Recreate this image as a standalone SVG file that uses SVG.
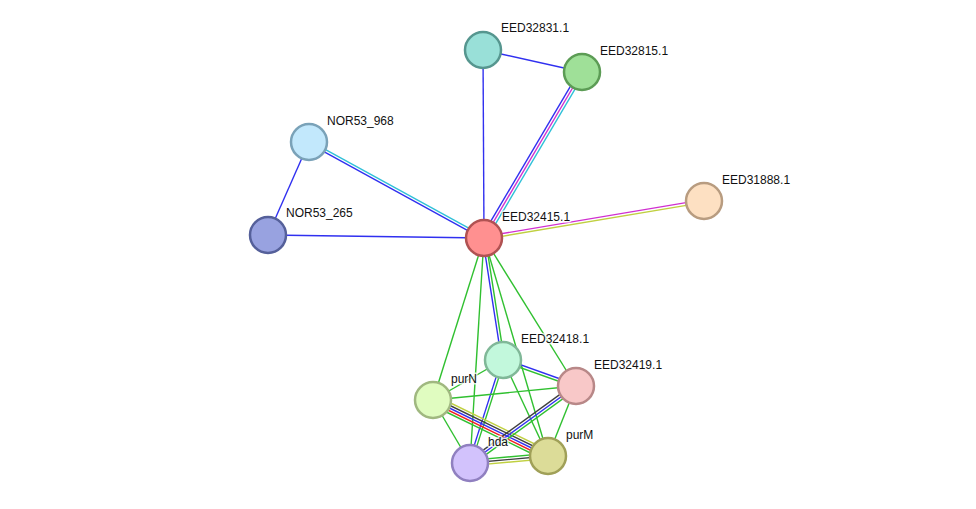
<svg xmlns="http://www.w3.org/2000/svg" width="976" height="509" viewBox="0 0 976 509">
<style>
.e{fill:none;stroke-width:1.4}
.bl{stroke:#3030f0}.cy{stroke:#30c0d8}.mg{stroke:#d030d0}.gr{stroke:#30c030}.yg{stroke:#c0d040}.dk{stroke:#404040}.rd{stroke:#f02020}
.n{stroke-width:2.5}
.t{font-family:"Liberation Sans",Arial,sans-serif;font-size:12px;fill:#111;stroke:#fff;stroke-width:3;stroke-opacity:0.8;paint-order:stroke;stroke-linejoin:round}
</style>
<rect width="976" height="509" fill="#fff"/>
<g id="edges">
<line class="e bl" x1="483" y1="50" x2="582" y2="72"/>
<line class="e bl" x1="483" y1="50" x2="484" y2="238"/>
<line class="e bl" x1="579.68" y1="70.63" x2="481.68" y2="236.63"/>
<line class="e mg" x1="582" y1="72" x2="484" y2="238"/>
<line class="e cy" x1="584.32" y1="73.37" x2="486.32" y2="239.37"/>
<line class="e bl" x1="309" y1="142" x2="268" y2="235"/>
<line class="e bl" x1="308.35" y1="143.18" x2="483.35" y2="239.18"/>
<line class="e cy" x1="309.65" y1="140.82" x2="484.65" y2="236.82"/>
<line class="e bl" x1="268" y1="235" x2="484" y2="238"/>
<line class="e mg" x1="483.78" y1="236.67" x2="703.78" y2="199.67"/>
<line class="e yg" x1="484.22" y1="239.33" x2="704.22" y2="202.33"/>
<line class="e gr" x1="484" y1="238" x2="433" y2="400"/>
<line class="e gr" x1="484" y1="238" x2="470" y2="463"/>
<line class="e gr" x1="484" y1="238" x2="548" y2="456"/>
<line class="e gr" x1="484" y1="238" x2="576" y2="386"/>
<line class="e bl" x1="482.67" y1="238.21" x2="501.67" y2="360.21"/>
<line class="e gr" x1="485.33" y1="237.79" x2="504.33" y2="359.79"/>
<line class="e bl" x1="503.45" y1="358.73" x2="576.45" y2="384.73"/>
<line class="e gr" x1="502.55" y1="361.27" x2="575.55" y2="387.27"/>
<line class="e bl" x1="501.71" y1="359.59" x2="468.71" y2="462.59"/>
<line class="e gr" x1="504.29" y1="360.41" x2="471.29" y2="463.41"/>
<line class="e gr" x1="503" y1="360" x2="433" y2="400"/>
<line class="e gr" x1="503" y1="360" x2="548" y2="456"/>
<line class="e gr" x1="433" y1="400" x2="576" y2="386"/>
<line class="e gr" x1="433" y1="400" x2="470" y2="463"/>
<line class="e gr" x1="576" y1="386" x2="548" y2="456"/>
<line class="e yg" x1="435.19" y1="395.50" x2="550.19" y2="451.50"/>
<line class="e dk" x1="434.10" y1="397.75" x2="549.10" y2="453.75"/>
<line class="e bl" x1="433" y1="400" x2="548" y2="456"/>
<line class="e rd" x1="431.90" y1="402.25" x2="546.90" y2="458.25"/>
<line class="e gr" x1="430.81" y1="404.50" x2="545.81" y2="460.50"/>
<line class="e dk" x1="468.47" y1="460.90" x2="574.47" y2="383.90"/>
<line class="e bl" x1="470" y1="463" x2="576" y2="386"/>
<line class="e gr" x1="471.53" y1="465.10" x2="577.53" y2="388.10"/>
<line class="e gr" x1="469.77" y1="460.41" x2="547.77" y2="453.41"/>
<line class="e dk" x1="470" y1="463" x2="548" y2="456"/>
<line class="e yg" x1="470.23" y1="465.59" x2="548.23" y2="458.59"/>
</g>
<g id="EED32831.1"><circle class="n" cx="483" cy="50" r="18" fill="#99e0d8" stroke="#56968f"/><text class="t" x="501" y="32">EED32831.1</text></g>
<g id="EED32815.1"><circle class="n" cx="582" cy="72" r="18" fill="#9fe098" stroke="#5c9c55"/><text class="t" x="600" y="55">EED32815.1</text></g>
<g id="NOR53_968"><circle class="n" cx="309" cy="142" r="18" fill="#c2e8fc" stroke="#7aa2b8"/><text class="t" x="327" y="125">NOR53_968</text></g>
<g id="NOR53_265"><circle class="n" cx="268" cy="235" r="18" fill="#98a2e0" stroke="#55609a"/><text class="t" x="286" y="217">NOR53_265</text></g>
<g id="EED32415.1"><circle class="n" cx="484" cy="238" r="18" fill="#ff9090" stroke="#b05252"/><text class="t" x="502" y="221">EED32415.1</text></g>
<g id="EED31888.1"><circle class="n" cx="704" cy="201" r="18" fill="#fde0c2" stroke="#b89c80"/><text class="t" x="722" y="184">EED31888.1</text></g>
<g id="EED32418.1"><circle class="n" cx="503" cy="360" r="18" fill="#c2f8dc" stroke="#80b898"/><text class="t" x="521" y="343">EED32418.1</text></g>
<g id="EED32419.1"><circle class="n" cx="576" cy="386" r="18" fill="#f8c8c8" stroke="#b88888"/><text class="t" x="594" y="369">EED32419.1</text></g>
<g id="purN"><circle class="n" cx="433" cy="400" r="18" fill="#e0fcc0" stroke="#a0b880"/><text class="t" x="451" y="383">purN</text></g>
<g id="hda"><circle class="n" cx="470" cy="463" r="18" fill="#d2c2fc" stroke="#9080c0"/><text class="t" x="488" y="446">hda</text></g>
<g id="purM"><circle class="n" cx="548" cy="456" r="18" fill="#dcdc98" stroke="#a0a058"/><text class="t" x="566" y="439">purM</text></g>
</svg>
